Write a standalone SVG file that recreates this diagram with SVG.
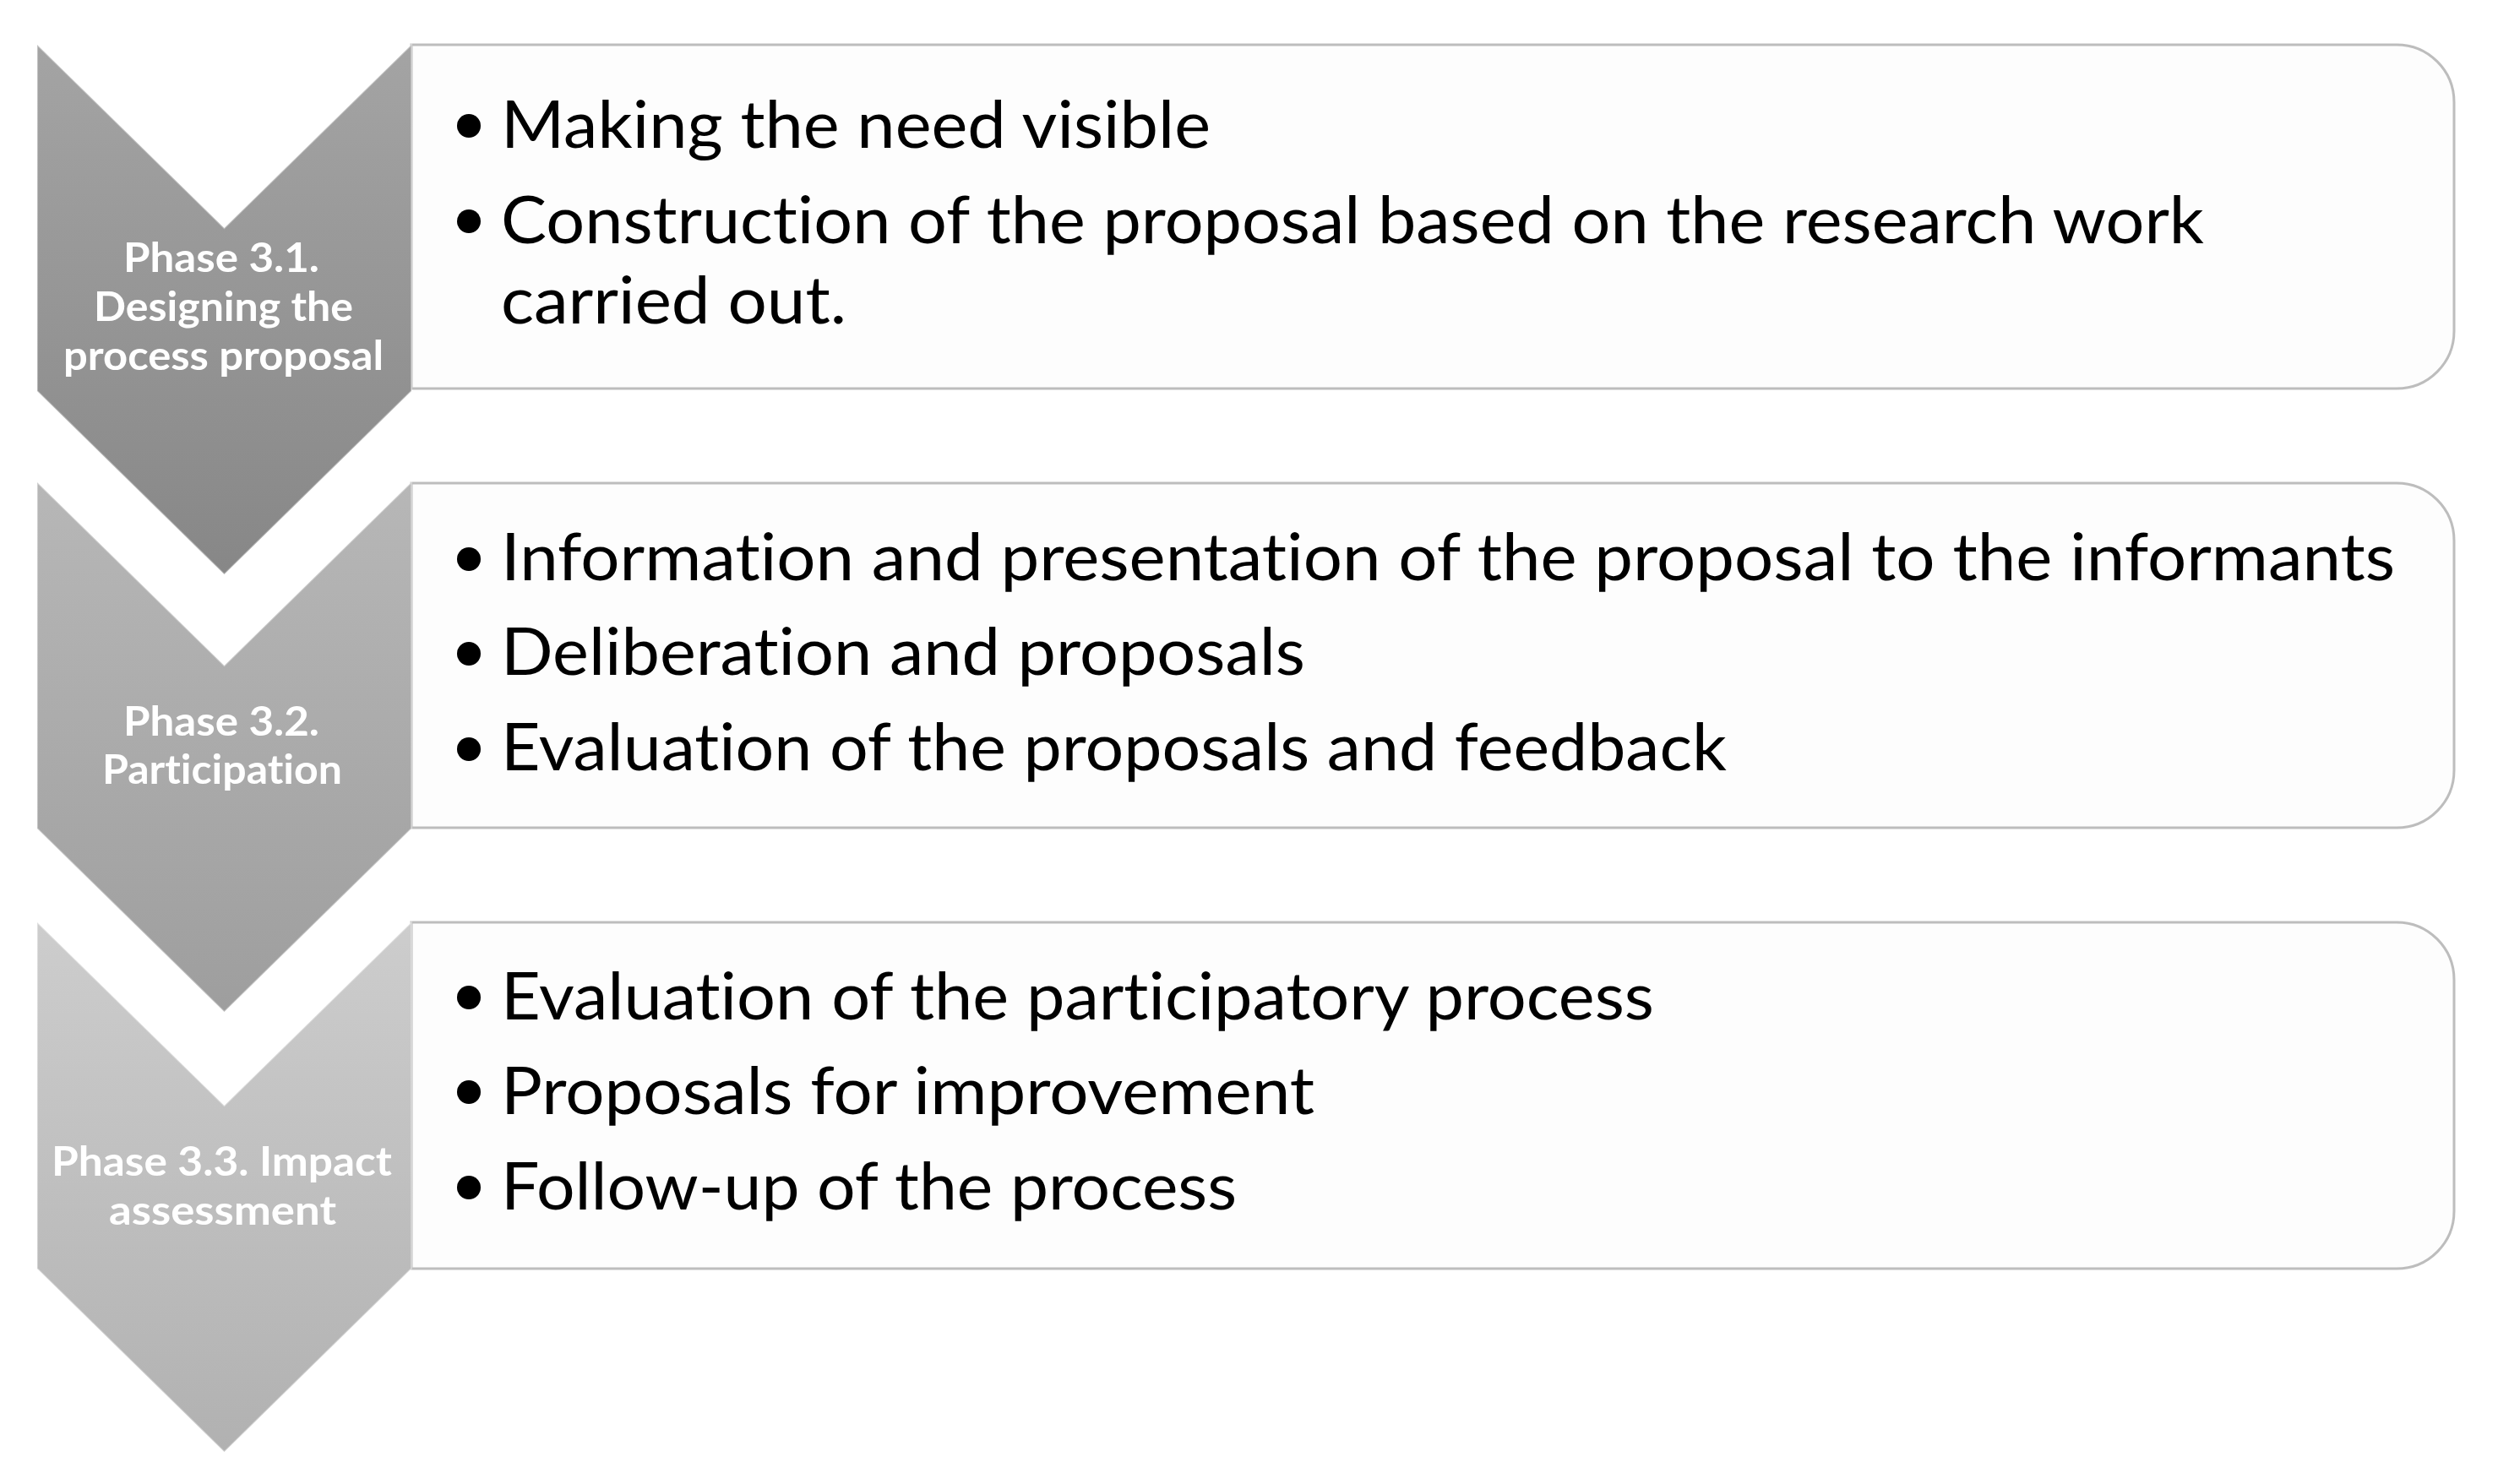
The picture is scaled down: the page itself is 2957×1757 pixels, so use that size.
<svg xmlns="http://www.w3.org/2000/svg" width="2957" height="1757" viewBox="0 0 2957 1757">
<defs>
<linearGradient id="g1" x1="0" y1="0" x2="0" y2="1"><stop offset="0" stop-color="#a4a4a4"/><stop offset="1" stop-color="#878787"/></linearGradient>
<linearGradient id="g2" x1="0" y1="0" x2="0" y2="1"><stop offset="0" stop-color="#b7b7b7"/><stop offset="1" stop-color="#9e9e9e"/></linearGradient>
<linearGradient id="g3" x1="0" y1="0" x2="0" y2="1"><stop offset="0" stop-color="#cdcdcd"/><stop offset="1" stop-color="#b1b1b1"/></linearGradient>
<style>
.box{fill:#fdfdfd;stroke:#bdbdbd;stroke-width:3}
.chev{stroke:#ffffff;stroke-opacity:0.35;stroke-width:2}
.lbl{font-family:Lato,"Open Sans",sans-serif;font-weight:bold;font-size:47px;fill:#ffffff;text-anchor:middle;font-variant-ligatures:none;font-feature-settings:"liga" 0,"dlig" 0}
.itm{font-family:Lato,"Open Sans",sans-serif;font-size:78px;fill:#000000;font-variant-ligatures:none;font-feature-settings:"liga" 0,"dlig" 0}
.bul{fill:#000000}
</style>
</defs>
<rect width="2957" height="1757" fill="#ffffff"/>
<g id="connectors"></g>

<g id="box1">
<path class="box" d="M487,53 H2837 A68,68 0 0 1 2905,121 V392 A68,68 0 0 1 2837,460 H487 Z"/>
<circle class="bul" cx="555" cy="149" r="14"/>
<text class="itm" x="593" y="175" textLength="840" lengthAdjust="spacingAndGlyphs">Making the need visible</text>
<circle class="bul" cx="555" cy="262" r="14"/>
<text class="itm" x="593" y="288" textLength="2016" lengthAdjust="spacingAndGlyphs">Construction of the proposal based on the research work</text>
<text class="itm" x="593" y="383" textLength="409" lengthAdjust="spacingAndGlyphs">carried out.</text>
</g>

<g id="box2">
<path class="box" d="M487,572 H2837 A68,68 0 0 1 2905,640 V912 A68,68 0 0 1 2837,980 H487 Z"/>
<circle class="bul" cx="555" cy="662" r="14"/>
<text class="itm" x="593" y="687" textLength="2242" lengthAdjust="spacingAndGlyphs">Information and presentation of the proposal to the informants</text>
<circle class="bul" cx="555" cy="774" r="14"/>
<text class="itm" x="593" y="799" textLength="952" lengthAdjust="spacingAndGlyphs">Deliberation and proposals</text>
<circle class="bul" cx="555" cy="887" r="14"/>
<text class="itm" x="593" y="912" textLength="1451" lengthAdjust="spacingAndGlyphs">Evaluation of the proposals and feedback</text>
</g>

<g id="box3">
<path class="box" d="M487,1092 H2837 A68,68 0 0 1 2905,1160 V1434 A68,68 0 0 1 2837,1502 H487 Z"/>
<circle class="bul" cx="555" cy="1181" r="14"/>
<text class="itm" x="593" y="1207" textLength="1365" lengthAdjust="spacingAndGlyphs">Evaluation of the participatory process</text>
<circle class="bul" cx="555" cy="1293" r="14"/>
<text class="itm" x="593" y="1319" textLength="963" lengthAdjust="spacingAndGlyphs">Proposals for improvement</text>
<circle class="bul" cx="555" cy="1406" r="14"/>
<text class="itm" x="593" y="1432" textLength="871" lengthAdjust="spacingAndGlyphs">Follow-up of the process</text>
</g>

<g id="phase1">
<polygon class="chev" fill="url(#g1)" points="44,53 265.5,270 487,53 487,463 265.5,680 44,463"/>
<text class="lbl" x="262" y="322" textLength="232" lengthAdjust="spacingAndGlyphs">Phase 3.1.</text>
<text class="lbl" x="264.5" y="380" textLength="307" lengthAdjust="spacingAndGlyphs">Designing the</text>
<text class="lbl" x="264.5" y="438" textLength="379" lengthAdjust="spacingAndGlyphs">process proposal</text>
</g>

<g id="phase2">
<polygon class="chev" fill="url(#g2)" points="44,571 265.5,788 487,571 487,981 265.5,1198 44,981"/>
<text class="lbl" x="262" y="871" textLength="232" lengthAdjust="spacingAndGlyphs">Phase 3.2.</text>
<text class="lbl" x="263" y="928" textLength="284" lengthAdjust="spacingAndGlyphs">Participation</text>
</g>

<g id="phase3">
<polygon class="chev" fill="url(#g3)" points="44,1092 265.5,1309 487,1092 487,1502 265.5,1719 44,1502"/>
<text class="lbl" x="262.5" y="1392" textLength="403" lengthAdjust="spacingAndGlyphs">Phase 3.3. Impact</text>
<text class="lbl" x="263.5" y="1450" textLength="269" lengthAdjust="spacingAndGlyphs">assessment</text>
</g>
</svg>
